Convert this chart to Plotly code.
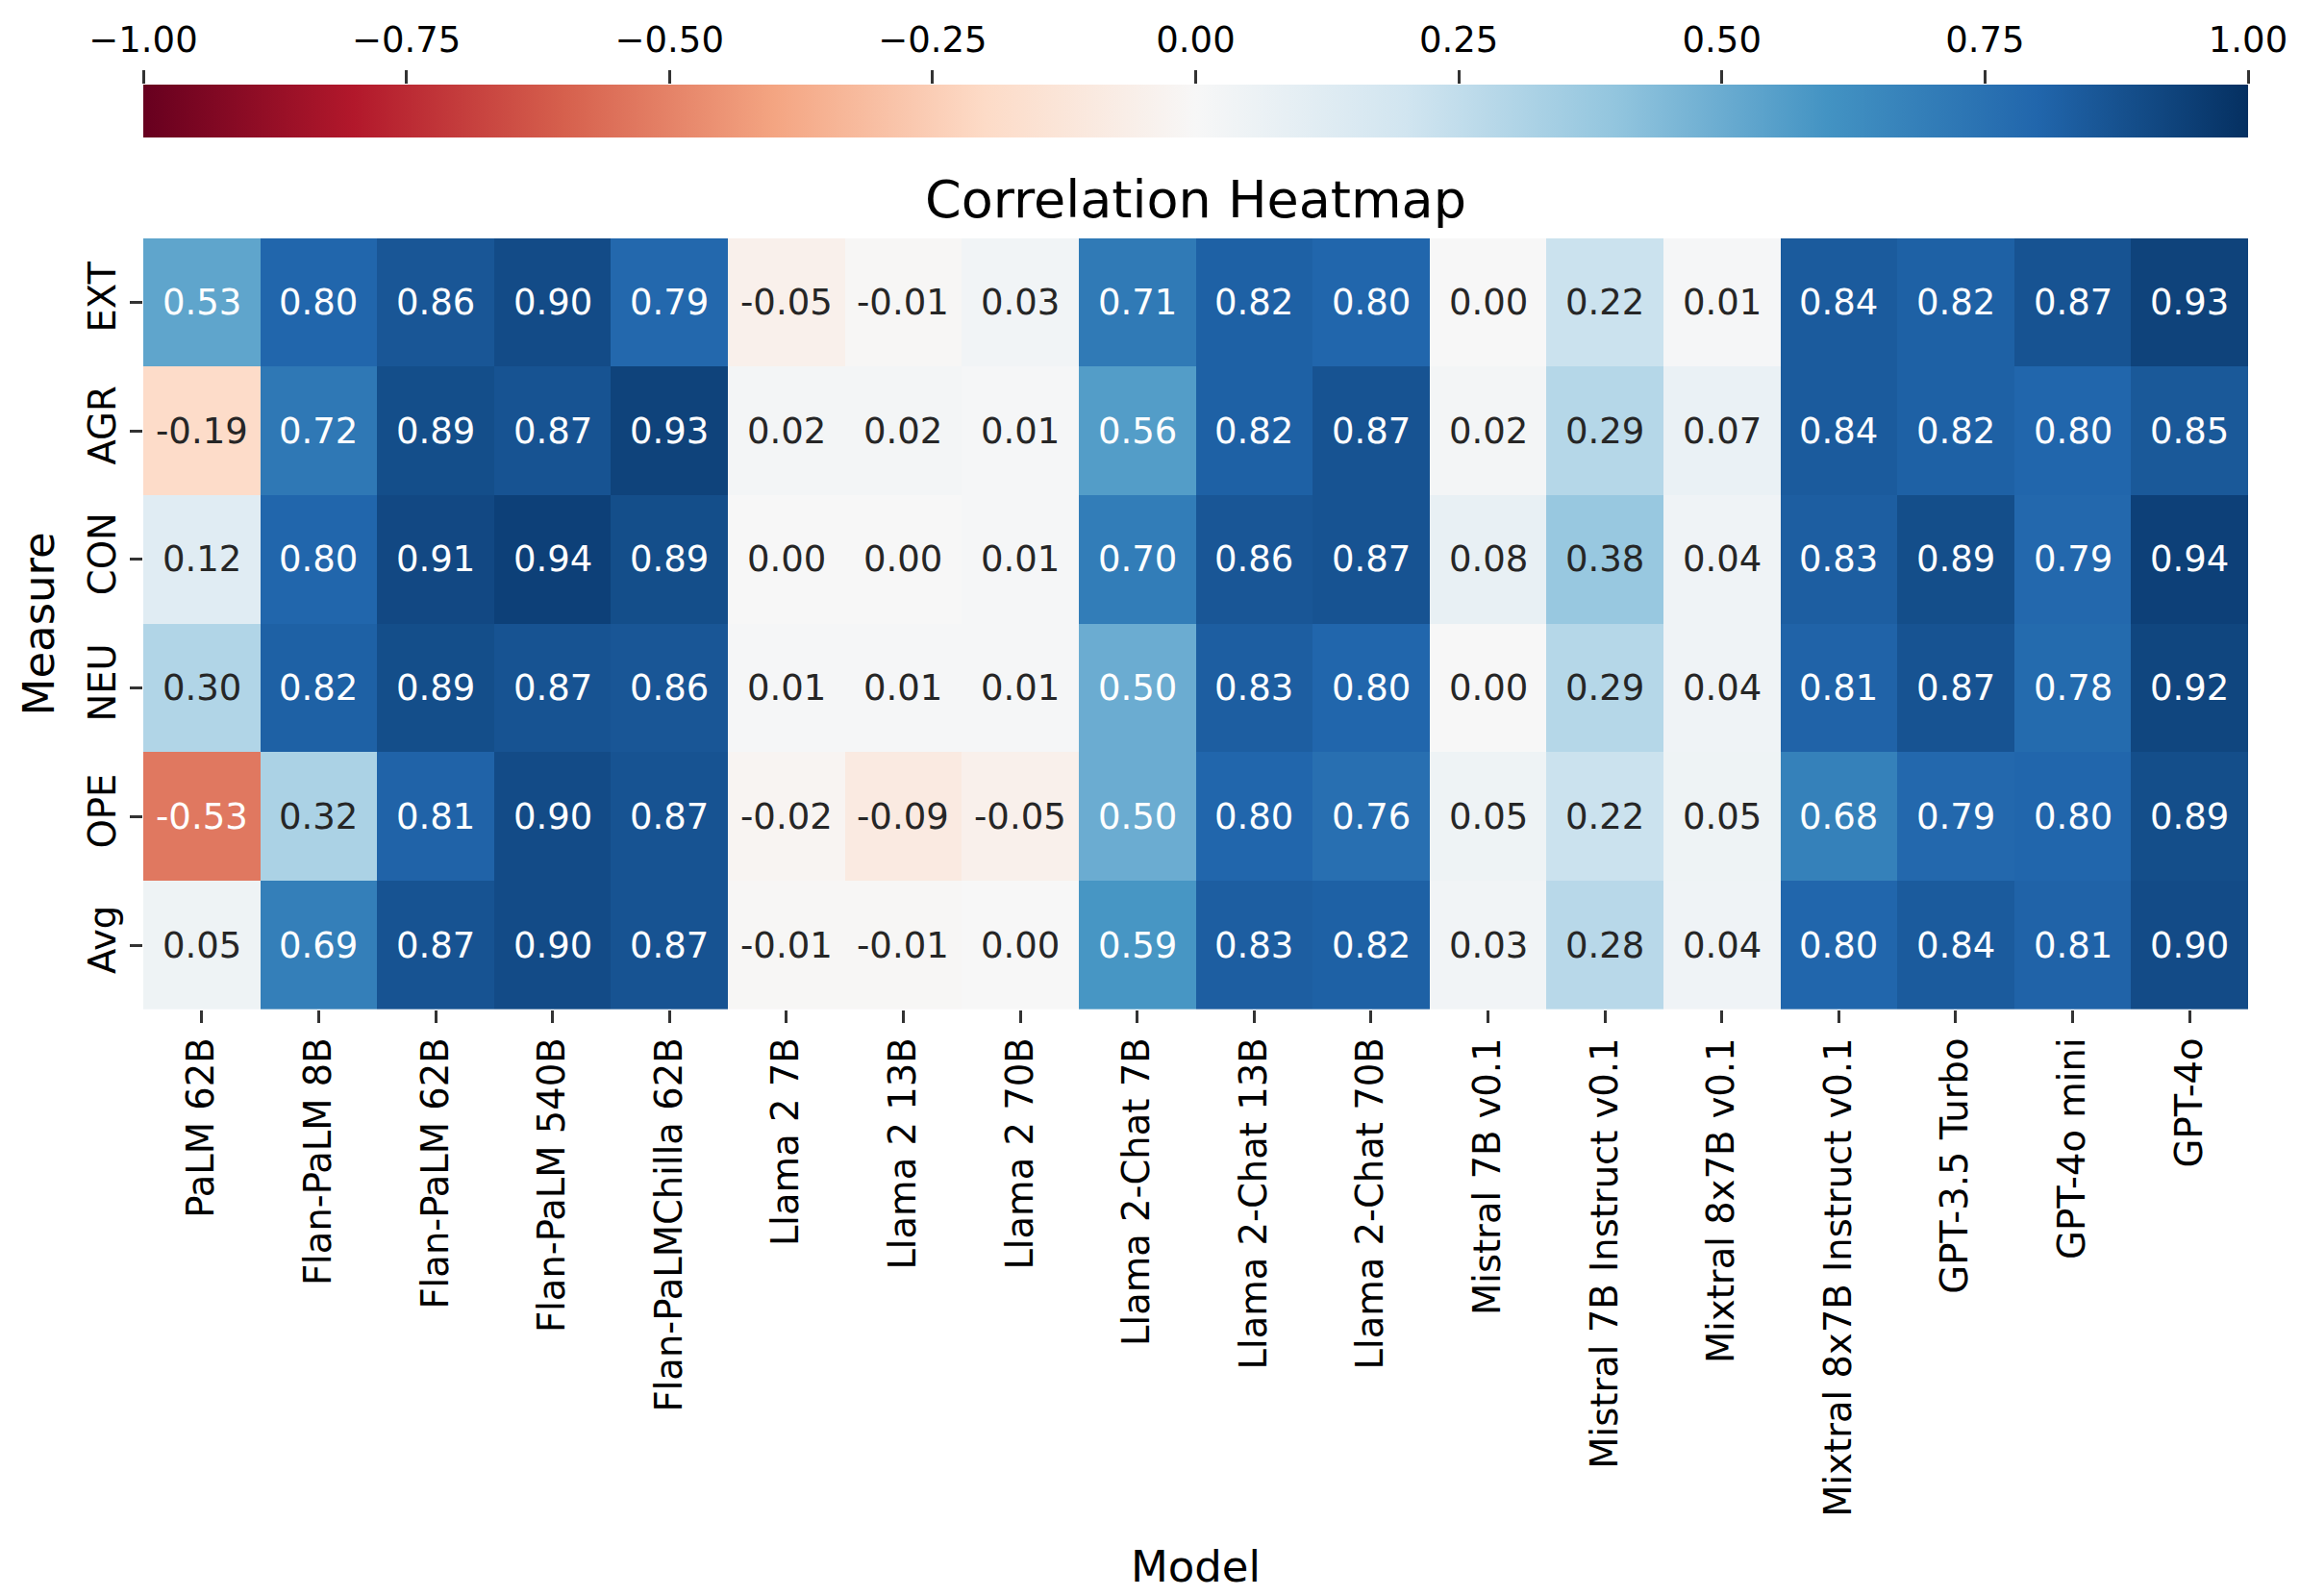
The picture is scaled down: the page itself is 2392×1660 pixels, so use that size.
import plotly.graph_objects as go

models = ["PaLM 62B", "Flan-PaLM 8B", "Flan-PaLM 62B", "Flan-PaLM 540B", "Flan-PaLMChilla 62B",
          "Llama 2 7B", "Llama 2 13B", "Llama 2 70B", "Llama 2-Chat 7B", "Llama 2-Chat 13B",
          "Llama 2-Chat 70B", "Mistral 7B v0.1", "Mistral 7B Instruct v0.1", "Mixtral 8x7B v0.1",
          "Mixtral 8x7B Instruct v0.1", "GPT-3.5 Turbo", "GPT-4o mini", "GPT-4o"]
measures = ["EXT", "AGR", "CON", "NEU", "OPE", "Avg"]

ext = [0.53, 0.80, 0.86, 0.90, 0.79, -0.05, -0.01, 0.03, 0.71, 0.82, 0.80, 0.00, 0.22, 0.01, 0.84, 0.82, 0.87, 0.93]
agr = [-0.19, 0.72, 0.89, 0.87, 0.93, 0.02, 0.02, 0.01, 0.56, 0.82, 0.87, 0.02, 0.29, 0.07, 0.84, 0.82, 0.80, 0.85]
con = [0.12, 0.80, 0.91, 0.94, 0.89, 0.00, 0.00, 0.01, 0.70, 0.86, 0.87, 0.08, 0.38, 0.04, 0.83, 0.89, 0.79, 0.94]
neu = [0.30, 0.82, 0.89, 0.87, 0.86, 0.01, 0.01, 0.01, 0.50, 0.83, 0.80, 0.00, 0.29, 0.04, 0.81, 0.87, 0.78, 0.92]
ope = [-0.53, 0.32, 0.81, 0.90, 0.87, -0.02, -0.09, -0.05, 0.50, 0.80, 0.76, 0.05, 0.22, 0.05, 0.68, 0.79, 0.80, 0.89]
avg = [0.05, 0.69, 0.87, 0.90, 0.87, -0.01, -0.01, 0.00, 0.59, 0.83, 0.82, 0.03, 0.28, 0.04, 0.80, 0.84, 0.81, 0.90]

cbar_ticks = [-1.0, -0.75, -0.5, -0.25, 0.0, 0.25, 0.5, 0.75, 1.0]
cbar_labels = ["\u22121.00", "\u22120.75", "\u22120.50", "\u22120.25", "0.00", "0.25", "0.50", "0.75", "1.00"]

z = [ext, agr, con, neu, ope, avg]

rdbu = [(103, 0, 31), (178, 24, 43), (214, 96, 77), (244, 165, 130), (253, 219, 199), (247, 247, 247),
        (209, 229, 240), (146, 197, 222), (67, 147, 195), (33, 102, 172), (5, 48, 97)]
colorscale = [[i / 10, "rgb(%d,%d,%d)" % c] for i, c in enumerate(rdbu)]


def cmap(v):
    t = (v + 1) / 2 * 10
    t = min(max(t, 0), 10)
    i = min(int(t), 9)
    f = t - i
    a, b = rdbu[i], rdbu[i + 1]
    return [(a[k] + (b[k] - a[k]) * f) / 255 for k in range(3)]


def lum(rgb):
    lin = [c / 12.92 if c <= 0.03928 else ((c + 0.055) / 1.055) ** 2.4 for c in rgb]
    return 0.2126 * lin[0] + 0.7152 * lin[1] + 0.0722 * lin[2]


FONT = "DejaVu Sans"
OFF = 8  # default page body margin
W, H = 2392 - OFF, 1660 - OFF
L, R = 149 - OFF, 54
T = 86 - OFF
B = H - (1050 - OFF)
plot_h = H - T - B
heat_top = (1050 - 246) / plot_h
cb_th = 55

fig = go.Figure()
fig.add_trace(go.Heatmap(
    z=z, x=models, y=measures, colorscale=colorscale, zmin=-1, zmax=1,
    xgap=0, ygap=0,
    colorbar=dict(orientation="h", x=0.5, xanchor="center", y=1, yanchor="top", yref="paper",
                  len=W - L - R, lenmode="pixels", thickness=cb_th, xpad=0, ypad=0,
                  outlinewidth=0, showticklabels=False, ticks=""),
    hovertemplate="%{x}<br>%{y}: %{z:.2f}<extra></extra>",
))
fig.add_trace(go.Scatter(x=[None], y=[None], xaxis="x2", yaxis="y2", showlegend=False, hoverinfo="skip"))

annotations = []
for r, m in enumerate(measures):
    for c, mod in enumerate(models):
        v = z[r][c]
        col = "#262626" if lum(cmap(v)) > 0.408 else "#ffffff"
        annotations.append(dict(x=mod, y=m, xref="x", yref="y", text="%.2f" % v, showarrow=False,
                                font=dict(family=FONT, size=37, color=col)))

fig.update_layout(
    width=W, height=H,
    margin=dict(l=L, r=R, t=T, b=B, pad=0),
    paper_bgcolor="white", plot_bgcolor="white",
    font=dict(family=FONT, color="black"),
    title=dict(text="Correlation Heatmap", x=0.5, xref="paper", xanchor="center",
               y=1 - (207 - OFF) / H, yref="container", yanchor="middle",
               font=dict(family=FONT, size=54, color="black")),
    xaxis=dict(domain=[0, 1], anchor="y", tickangle=-90, ticks="outside", ticklen=13, tickwidth=2.5,
               tickcolor="#333333", showgrid=False, zeroline=False, showline=False,
               tickfont=dict(family=FONT, size=38.5, color="black"),
               title=dict(text="Model", font=dict(family=FONT, size=45, color="black"), standoff=36)),
    yaxis=dict(domain=[0, heat_top], anchor="x", autorange="reversed", tickangle=-90, ticks="outside",
               ticklen=13, tickwidth=2.5, tickcolor="#333333", showgrid=False, zeroline=False,
               showline=False, tickfont=dict(family=FONT, size=38.5, color="black"),
               title=dict(text="Measure", font=dict(family=FONT, size=45, color="black"), standoff=12)),
    xaxis2=dict(domain=[0, 1], anchor="y2", side="top", range=[-1, 1], tickvals=cbar_ticks,
                ticktext=cbar_labels, ticks="outside", ticklen=14, tickwidth=2.5, tickcolor="#333333",
                showgrid=False, zeroline=False, showline=False, ticklabelstandoff=4,
                tickfont=dict(family=FONT, size=37, color="black")),
    yaxis2=dict(domain=[1 - cb_th / plot_h, 1], anchor="x2", range=[0, 1], visible=False),
    annotations=annotations,
)

fig.write_html("out.html")
